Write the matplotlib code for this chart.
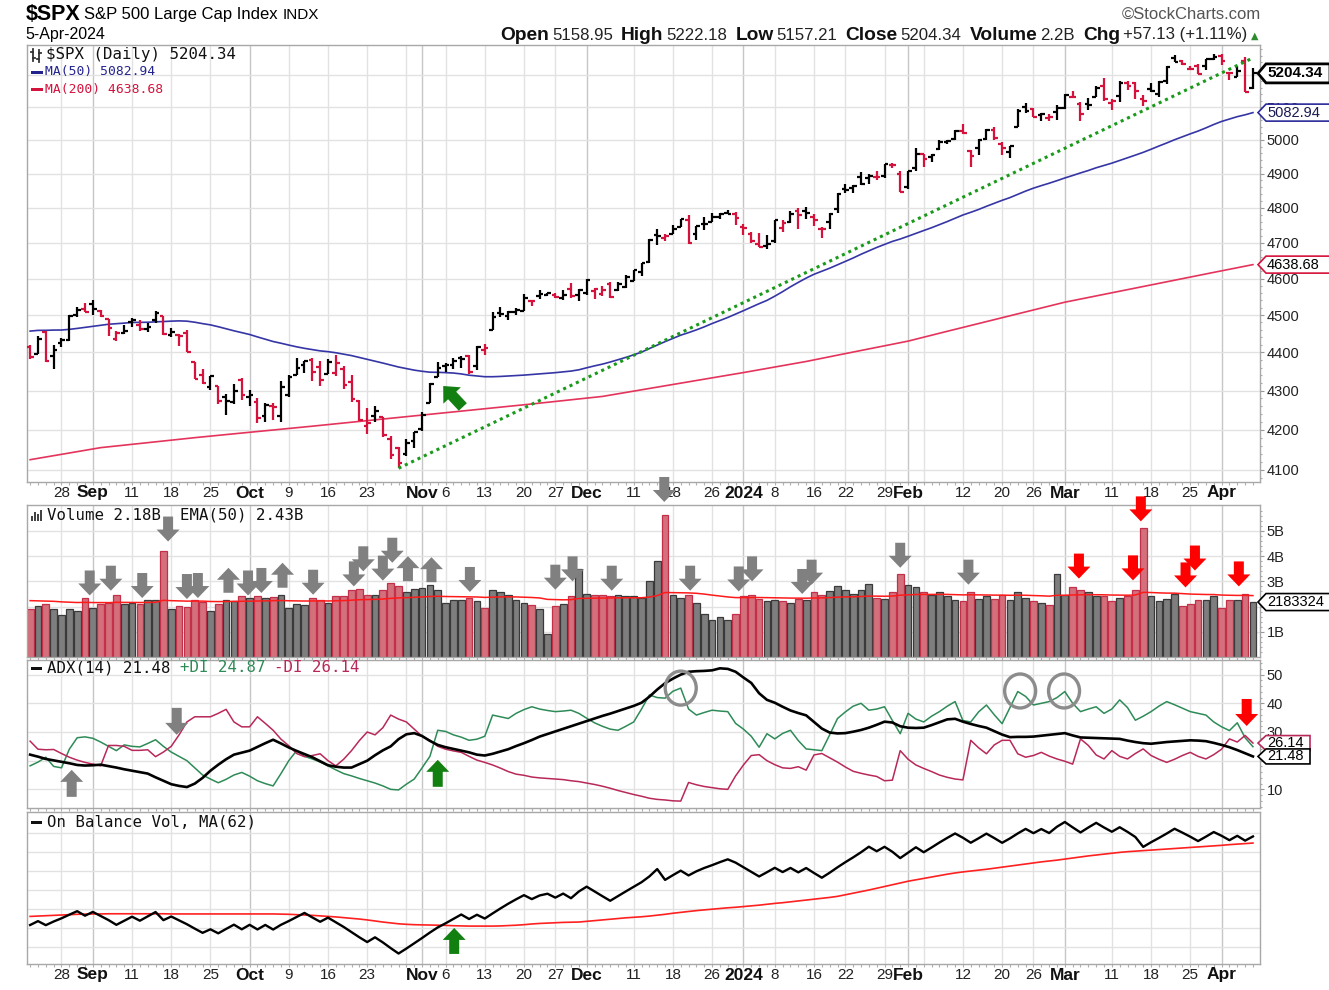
import numpy as np
import pandas as pd
import matplotlib
matplotlib.use("Agg")
import matplotlib.pyplot as plt
from matplotlib.patches import Polygon, Ellipse, Rectangle
from matplotlib.lines import Line2D
from matplotlib.transforms import IdentityTransform
from matplotlib.ticker import FixedLocator, NullFormatter
from matplotlib import font_manager

# ------------------------------------------------------------------ data
holidays = ['2023-09-04', '2023-11-23', '2023-12-25', '2024-01-01',
            '2024-01-15', '2024-02-19', '2024-03-29']
dates = pd.bdate_range('2023-08-22', '2024-04-05')
dates = dates[~dates.isin(pd.to_datetime(holidays))]

pre_closes = [4298.86, 4338.93, 4369.01, 4372.59, 4425.84, 4409.59, 4388.71, 4365.69, 4381.89, 4348.33,
              4328.82, 4378.41, 4376.86, 4396.44, 4450.38, 4455.59, 4446.82, 4411.59, 4398.95, 4409.53,
              4439.26, 4472.16, 4510.04, 4505.42, 4522.79, 4554.98, 4565.72, 4534.87, 4536.34, 4554.64,
              4567.46, 4566.75, 4537.41, 4582.23, 4588.96, 4576.73, 4513.39, 4501.89, 4478.03, 4518.44,
              4499.38, 4467.71, 4468.83, 4464.05, 4489.72, 4437.86, 4404.33, 4370.36, 4369.71, 4399.77]

opens = [4415.33, 4396.44, 4455.16, 4389.38, 4426.03, 4432.75, 4500.34, 4517.01, 4530.60, 4510.06,
         4490.35, 4434.55, 4451.30, 4480.98, 4473.27, 4462.65, 4487.78, 4497.98, 4445.41, 4445.41,
         4452.81, 4374.36, 4341.74, 4310.62, 4312.88, 4282.63, 4269.65, 4328.18, 4284.52, 4269.75,
         4233.83, 4259.31, 4234.79, 4289.02, 4339.75, 4366.59, 4380.94, 4360.49, 4342.37, 4345.23,
         4357.35, 4321.36, 4273.85, 4210.40, 4235.79, 4232.42, 4175.99, 4152.93, 4139.39, 4171.33,
         4201.27, 4268.26, 4334.23, 4364.27, 4366.21, 4384.37, 4391.41, 4364.15, 4406.66, 4458.97,
         4505.30, 4497.08, 4509.55, 4511.70, 4538.77, 4553.04, 4555.84, 4554.86, 4545.55, 4571.84,
         4554.87, 4559.43, 4564.37, 4557.25, 4586.23, 4568.84, 4576.20, 4593.39, 4618.30, 4646.20,
         4721.04, 4714.23, 4725.58, 4743.72, 4764.73, 4724.29, 4753.92, 4758.86, 4773.45, 4786.44,
         4782.88, 4745.20, 4725.07, 4697.42, 4690.57, 4703.70, 4741.93, 4759.94, 4792.13, 4791.18,
         4772.35, 4739.13, 4760.10, 4796.28, 4853.42, 4856.80, 4888.56, 4886.66, 4888.91, 4892.95,
         4925.89, 4899.19, 4861.11, 4916.06, 4957.19, 4950.16, 4973.05, 4995.16, 5004.17, 5026.83,
         4967.94, 4976.44, 5003.14, 5031.13, 4989.32, 4963.03, 5038.83, 5100.92, 5093.00, 5074.60,
         5067.20, 5085.36, 5098.51, 5130.99, 5110.52, 5108.03, 5132.38, 5164.46, 5111.96, 5134.30,
         5173.49, 5175.14, 5123.31, 5154.77, 5139.09, 5181.69, 5253.43, 5242.48, 5219.52, 5228.85,
         5226.31, 5248.03, 5257.97, 5204.29, 5194.37, 5244.05, 5158.95]

highs = [4418.59, 4443.18, 4458.30, 4418.46, 4439.56, 4500.14, 4521.65, 4532.26, 4541.25, 4514.29,
         4490.35, 4457.81, 4473.53, 4490.77, 4487.11, 4479.39, 4511.99, 4497.98, 4466.36, 4449.85,
         4461.03, 4375.70, 4357.40, 4338.51, 4313.01, 4292.07, 4317.27, 4333.15, 4300.58, 4281.15,
         4268.50, 4267.13, 4324.10, 4341.73, 4385.46, 4378.64, 4385.85, 4377.10, 4383.33, 4393.57,
         4364.20, 4339.54, 4276.56, 4255.84, 4259.38, 4232.42, 4183.60, 4156.70, 4177.47, 4195.55,
         4245.64, 4319.72, 4373.62, 4372.21, 4386.26, 4391.20, 4393.40, 4418.03, 4421.76, 4508.67,
         4521.17, 4511.99, 4520.12, 4557.11, 4542.14, 4568.43, 4560.31, 4560.52, 4568.14, 4587.64,
         4569.89, 4599.39, 4574.06, 4578.56, 4590.74, 4590.92, 4609.23, 4623.71, 4643.93, 4709.69,
         4738.57, 4725.53, 4749.52, 4768.69, 4778.01, 4748.71, 4772.94, 4784.72, 4785.39, 4793.30,
         4788.43, 4754.33, 4729.29, 4726.78, 4721.49, 4764.54, 4765.47, 4790.80, 4798.50, 4802.40,
         4782.34, 4744.23, 4785.79, 4842.07, 4868.41, 4866.48, 4903.68, 4898.15, 4906.69, 4929.31,
         4931.09, 4906.75, 4906.97, 4975.29, 4957.19, 4957.77, 4999.89, 5000.40, 5030.06, 5048.39,
         4969.34, 5002.52, 5032.72, 5038.70, 4993.71, 4983.21, 5094.39, 5111.06, 5097.66, 5080.69,
         5077.37, 5104.99, 5140.33, 5149.67, 5114.54, 5127.97, 5165.62, 5189.26, 5124.66, 5179.87,
         5179.14, 5176.85, 5136.86, 5175.60, 5180.31, 5226.19, 5261.10, 5246.09, 5229.09, 5235.16,
         5249.26, 5264.85, 5263.95, 5208.34, 5228.75, 5256.59, 5222.18]

lows = [4382.77, 4396.44, 4375.55, 4356.29, 4414.98, 4431.68, 4493.59, 4507.39, 4501.35, 4496.01,
        4442.38, 4430.46, 4448.38, 4467.89, 4456.83, 4453.52, 4478.69, 4447.21, 4442.11, 4416.61,
        4401.38, 4329.17, 4316.49, 4302.70, 4265.98, 4238.63, 4264.38, 4274.86, 4260.21, 4216.45,
        4220.48, 4225.91, 4219.55, 4283.79, 4339.64, 4345.34, 4325.43, 4311.97, 4342.37, 4337.54,
        4303.84, 4269.69, 4223.03, 4189.22, 4219.43, 4181.42, 4127.90, 4103.78, 4132.94, 4153.12,
        4197.74, 4268.26, 4334.23, 4347.53, 4355.41, 4359.76, 4343.94, 4353.34, 4393.82, 4458.97,
        4495.31, 4487.83, 4499.66, 4510.36, 4525.51, 4545.05, 4552.80, 4546.32, 4540.51, 4547.15,
        4537.24, 4554.71, 4544.48, 4551.68, 4546.50, 4565.22, 4574.06, 4593.39, 4608.09, 4643.23,
        4694.34, 4704.69, 4725.58, 4743.72, 4697.82, 4708.35, 4736.77, 4758.45, 4768.90, 4780.98,
        4751.99, 4722.67, 4699.71, 4687.53, 4682.11, 4699.82, 4730.35, 4756.20, 4739.58, 4768.98,
        4747.12, 4714.82, 4740.57, 4785.87, 4844.05, 4844.37, 4865.94, 4869.34, 4881.47, 4887.40,
        4916.27, 4845.15, 4853.52, 4907.99, 4918.09, 4934.88, 4969.05, 4987.09, 5000.34, 5016.83,
        4920.31, 4956.45, 4999.44, 4999.52, 4955.02, 4946.00, 5038.83, 5081.46, 5068.91, 5057.29,
        5058.35, 5061.89, 5094.16, 5127.18, 5056.82, 5092.22, 5131.59, 5117.50, 5091.14, 5114.48,
        5151.88, 5123.30, 5104.35, 5145.47, 5131.59, 5171.55, 5240.66, 5229.87, 5216.09, 5203.42,
        5213.92, 5245.82, 5229.20, 5184.05, 5194.37, 5146.06, 5157.21]

closes = [4387.55, 4436.01, 4376.31, 4405.71, 4433.31, 4497.63, 4514.87, 4507.66, 4515.77, 4496.83,
          4465.48, 4451.14, 4457.49, 4487.46, 4461.90, 4467.44, 4505.10, 4450.32, 4453.53, 4443.95,
          4402.20, 4330.00, 4320.06, 4337.44, 4273.53, 4274.51, 4299.70, 4288.05, 4288.39, 4229.45,
          4263.75, 4258.19, 4308.50, 4335.66, 4358.24, 4376.95, 4349.61, 4327.78, 4373.63, 4373.20,
          4314.60, 4278.00, 4224.16, 4217.04, 4247.68, 4186.77, 4137.23, 4117.37, 4166.82, 4193.80,
          4237.86, 4317.78, 4358.34, 4365.98, 4378.38, 4382.78, 4347.35, 4415.24, 4411.55, 4495.70,
          4502.88, 4508.24, 4514.02, 4547.38, 4538.19, 4556.62, 4559.34, 4550.43, 4554.89, 4550.58,
          4567.80, 4594.63, 4569.78, 4567.18, 4549.34, 4585.59, 4604.37, 4622.44, 4643.70, 4707.09,
          4719.55, 4719.19, 4740.56, 4768.37, 4698.35, 4746.75, 4754.63, 4774.75, 4781.58, 4783.35,
          4769.83, 4742.83, 4704.81, 4688.68, 4697.24, 4763.54, 4756.50, 4783.45, 4780.24, 4783.83,
          4765.98, 4739.21, 4780.94, 4839.81, 4850.43, 4864.60, 4868.55, 4894.16, 4890.97, 4927.93,
          4924.97, 4845.65, 4906.19, 4958.61, 4942.81, 4954.23, 4995.06, 4997.91, 5026.61, 5021.84,
          4953.17, 5000.62, 5029.73, 5005.57, 4975.51, 4981.80, 5087.03, 5088.80, 5069.53, 5078.18,
          5069.76, 5096.27, 5137.08, 5130.95, 5078.65, 5104.76, 5157.36, 5123.69, 5117.94, 5175.27,
          5165.31, 5150.48, 5117.09, 5149.42, 5178.51, 5224.62, 5241.53, 5234.18, 5218.19, 5203.58,
          5248.49, 5254.35, 5243.77, 5205.81, 5211.49, 5147.21, 5204.34]

ma200 = [4125.0, 4128.3, 4131.7, 4135.0, 4138.3, 4141.7, 4145.0, 4148.3, 4151.7, 4155.0,
         4157.1, 4159.2, 4161.2, 4163.3, 4165.4, 4167.5, 4169.6, 4171.7, 4173.8, 4175.8, 4177.9, 4180.0, 4182.0,
         4183.9, 4185.8, 4187.8, 4189.7, 4191.6, 4193.5, 4195.4, 4197.3, 4199.2, 4201.2, 4203.1, 4205.0,
         4207.0, 4209.0, 4211.0, 4213.0, 4215.0, 4217.0, 4219.0, 4221.0, 4223.0, 4225.0, 4227.0, 4229.0, 4231.0,
         4233.0, 4235.0, 4237.0, 4239.0, 4241.0, 4243.0, 4245.0, 4247.0, 4249.0, 4251.0, 4253.0, 4255.0, 4257.0,
         4259.2, 4261.3, 4263.5, 4265.6, 4267.8, 4269.9, 4272.1, 4274.2, 4276.4, 4278.5, 4280.7, 4282.8, 4285.0,
         4288.4, 4291.9, 4295.3, 4298.8, 4302.2, 4305.6, 4309.1, 4312.5, 4316.0, 4319.4, 4322.8, 4326.3, 4329.7,
         4333.2, 4336.6, 4340.0, 4343.5, 4347.0,
         4350.6, 4354.1, 4357.7, 4361.3, 4364.9, 4368.4, 4372.0,
         4376.1, 4380.3, 4384.4, 4388.6, 4392.7, 4396.9, 4401.0, 4405.1, 4409.3, 4413.4, 4417.6, 4421.7, 4425.9, 4430.0,
         4435.3, 4440.5, 4445.8, 4451.0, 4456.3, 4461.5, 4466.8, 4472.0, 4477.3, 4482.5, 4487.8, 4493.0, 4498.3,
         4503.5, 4508.8, 4514.0, 4519.3, 4524.5, 4529.8, 4535.0,
         4539.3, 4543.6, 4548.0, 4552.3, 4556.6, 4560.9, 4565.2, 4569.6, 4573.9, 4578.2, 4582.5, 4586.8, 4591.2,
         4595.5, 4599.8, 4604.1, 4608.4, 4612.8, 4617.1, 4621.4, 4625.7, 4630.0, 4634.4, 4638.68]

volume_b = [1.89, 2.02, 2.09, 1.89, 1.65, 1.89, 1.81, 2.34, 1.96, 2.09,
            2.14, 2.47, 2.09, 2.14, 2.09, 2.25, 2.25, 4.21, 1.89, 2.02,
            1.98, 2.28, 2.18, 1.83, 2.09, 2.28, 2.21, 2.41, 2.34, 2.41,
            2.34, 2.38, 2.45, 1.96, 2.12, 2.08, 2.34, 2.25, 2.14, 2.41,
            2.41, 2.65, 2.71, 2.47, 2.45, 2.65, 2.95, 2.80, 2.58, 2.71,
            2.75, 2.84, 2.65, 2.14, 2.28, 2.28, 2.34, 2.21, 1.96, 2.65,
            2.58, 2.47, 2.28, 2.14, 2.05, 1.89, 0.90, 2.02, 2.09, 2.41,
            3.50, 2.51, 2.47, 2.45, 2.41, 2.47, 2.41, 2.41, 2.35, 3.00,
            3.81, 5.62, 2.45, 2.34, 2.47, 2.14, 1.72, 1.46, 1.57, 1.46,
            1.72, 2.41, 2.47, 2.29, 2.21, 2.28, 2.21, 2.14, 2.29, 2.25,
            2.58, 2.45, 2.60, 2.80, 2.65, 2.50, 2.65, 2.88, 2.35, 2.30,
            2.58, 3.28, 2.84, 2.78, 2.58, 2.45, 2.58, 2.41, 2.28, 2.21,
            2.58, 2.31, 2.41, 2.31, 2.45, 2.28, 2.58, 2.35, 2.21, 2.14,
            2.08, 3.28, 2.45, 2.78, 2.65, 2.58, 2.41, 2.41, 2.21, 2.34,
            2.41, 2.65, 5.13, 2.41, 2.21, 2.31, 2.48, 2.02, 2.09, 2.28,
            2.28, 2.41, 1.96, 2.28, 2.28, 2.51, 2.18]
vol_ema_seed = 2.25

adx = [22.1, 21.4, 20.6, 20.1, 19.6, 19.1, 18.5, 18.3, 18.4, 18.6,
       18.1, 17.6, 17.0, 16.5, 16.0, 15.5, 14.2, 13.0, 11.8, 11.2,
       10.8, 12.0, 14.0, 16.5, 18.6, 20.5, 22.1, 22.8, 23.5, 24.8,
       26.1, 27.3, 26.0, 24.6, 23.4, 22.3, 21.2, 19.8, 18.4, 17.9,
       17.6, 17.6, 18.8, 20.0, 21.9, 23.6, 25.0, 27.5, 29.2, 29.6,
       28.6, 26.9, 25.5, 24.7, 24.1, 23.5, 22.9, 22.1, 21.8, 22.4,
       23.2, 24.0, 25.1, 26.1, 27.2, 28.4, 29.3, 30.2, 31.1, 32.0,
       32.9, 33.8, 34.7, 35.6, 36.4, 37.3, 38.2, 39.1, 40.2, 42.3,
       44.8, 47.0, 48.6, 50.0, 51.0, 51.2, 51.3, 51.5, 52.2, 52.0,
       51.0, 49.0, 47.1, 43.5, 41.2, 40.2, 38.8, 37.5, 36.6, 35.8,
       33.5, 31.2, 29.8, 29.5, 29.6, 30.1, 30.7, 31.5, 32.5, 33.6,
       33.3, 32.0, 31.5, 31.4, 31.5, 32.4, 33.4, 34.4, 34.6, 33.6,
       32.8, 32.1, 31.5, 30.3, 29.1, 28.2, 28.3, 28.3, 28.4, 28.7,
       29.0, 29.3, 29.6, 28.8, 28.1, 28.0, 27.9, 27.8, 27.7, 27.6,
       27.0, 26.5, 26.1, 25.9, 26.2, 26.5, 26.7, 26.9, 27.1, 27.0,
       26.8, 26.2, 25.5, 24.7, 23.7, 22.6, 21.48]

plus_di = [18.2, 19.5, 21.2, 18.0, 17.5, 24.0, 28.0, 28.3, 27.8, 26.5,
           25.0, 23.5, 25.5, 25.0, 24.8, 26.0, 27.3, 25.0, 23.0, 21.5,
           20.0, 17.5, 15.0, 13.6, 12.3, 13.5, 15.0, 15.9, 14.6, 13.0,
           12.0, 11.2, 15.5, 20.0, 23.5, 21.5, 20.6, 19.5, 18.2, 16.8,
           15.5, 14.7, 13.8, 13.0, 12.2, 11.2, 10.0, 9.8, 11.8, 13.6,
           17.5, 21.5, 30.6, 30.2, 29.0, 28.2, 27.1, 27.5, 28.5, 35.9,
           35.3, 34.7, 36.5, 37.8, 38.8, 38.0, 37.5, 37.1, 37.3, 37.6,
           36.5, 34.8, 33.2, 32.0, 31.0, 30.6, 32.0, 33.5, 38.0, 42.9,
           42.0, 41.8, 44.2, 45.3, 38.0, 35.9, 36.8, 37.6, 37.3, 37.1,
           33.0, 31.0, 28.5, 24.7, 29.4, 27.6, 29.5, 30.6, 27.0, 24.1,
           23.8, 23.5, 29.0, 34.7, 37.0, 39.0, 40.0, 37.6, 38.0, 38.8,
           34.0, 29.4, 36.5, 34.5, 33.5, 35.5, 37.1, 39.0, 40.6, 34.0,
           33.5, 37.0, 39.4, 36.0, 32.9, 38.5, 44.1, 42.4, 39.4, 40.0,
           40.6, 42.0, 44.1, 40.0, 37.1, 38.0, 38.8, 36.5, 38.0, 41.2,
           38.5, 34.1, 35.5, 37.1, 39.0, 40.6, 39.5, 38.3, 37.1, 36.5,
           35.9, 33.5, 31.8, 30.5, 33.2, 28.0, 24.87]

minus_di = [26.8, 24.0, 23.8, 23.9, 22.5, 21.2, 20.2, 19.4, 18.8, 18.2,
            25.3, 25.3, 25.0, 23.6, 23.6, 23.8, 21.4, 23.0, 25.0, 29.0,
            33.5, 35.3, 35.3, 35.3, 36.5, 37.9, 33.5, 31.8, 31.8, 35.3,
            33.0, 30.6, 27.5, 25.2, 22.5, 21.4, 21.8, 22.4, 20.0, 18.2,
            20.5, 23.5, 27.0, 30.0, 29.0, 31.5, 35.9, 34.5, 33.5, 31.0,
            28.5, 27.1, 25.0, 24.0, 23.4, 22.9, 21.5, 20.2, 19.4, 18.5,
            17.4, 16.2, 15.3, 14.9, 14.3, 14.0, 13.8, 13.6, 13.4, 13.0,
            12.7, 12.2, 11.7, 11.1, 10.4, 9.6, 8.9, 8.2, 7.6, 6.9,
            6.5, 6.3, 6.0, 5.9, 12.4, 11.6, 11.0, 10.6, 10.2, 10.0,
            14.7, 18.5, 21.8, 22.1, 20.0, 18.6, 17.5, 17.3, 17.9, 16.7,
            22.0, 22.5, 21.0, 19.5, 17.8, 16.3, 15.6, 15.0, 14.5, 13.0,
            13.2, 23.5, 20.5, 18.5, 17.3, 16.2, 15.0, 14.2, 13.6, 13.3,
            27.1, 24.5, 22.4, 25.5, 27.1, 27.1, 22.4, 21.2, 21.8, 22.9,
            21.6, 20.6, 19.8, 18.8, 27.6, 25.3, 22.0, 20.6, 23.5, 21.5,
            20.6, 22.5, 24.1, 21.8, 20.5, 19.4, 20.5, 21.8, 22.9, 21.5,
            20.6, 22.1, 24.0, 27.6, 26.5, 28.8, 26.14]

obv_ma62 = [2.57, 2.75, 2.93, 3.12, 3.30, 3.48, 3.66, 3.76,
            3.85, 3.85, 3.94, 3.94, 3.94, 3.94, 3.94, 3.94, 3.94, 3.94, 3.85, 3.85,
            3.85, 3.85, 3.85, 3.85, 3.85, 3.85, 3.85, 3.85, 3.85, 3.85, 3.85, 3.85,
            3.76, 3.66, 3.48, 3.30, 3.12, 2.84, 2.57, 2.30, 1.93,
            1.57, 1.20, 0.75, 0.20, -0.35, -0.80, -1.26,
            -1.53, -1.72, -1.81, -1.90, -1.99, -2.08,
            -2.26, -2.36, -2.45, -2.45, -2.45, -2.45, -2.36,
            -2.17, -1.99, -1.72, -1.35, -1.08, -0.90, -0.71, -0.53, -0.44, -0.35,
            0.02, 0.38, 0.75, 1.11, 1.48, 1.84, 2.11, 2.39, 2.75,
            3.21, 3.66, 4.21, 4.67, 5.12, 5.58, 5.94, 6.31, 6.67, 7.04, 7.31, 7.68,
            8.04, 8.41, 8.86, 9.32, 9.68, 10.14, 10.60, 11.05, 11.51, 11.96, 12.42, 12.97,
            13.79, 14.61, 15.43, 16.25, 17.16, 18.07, 18.99, 19.90, 20.81, 21.54, 22.27,
            23.00, 23.73, 24.46, 25.10, 25.64, 26.10, 26.56, 27.01, 27.56, 28.11, 28.65,
            29.20, 29.75, 30.29, 30.84, 31.30, 31.75, 32.30, 32.85, 33.40, 33.94, 34.40,
            34.86, 35.31, 35.77, 36.13, 36.41, 36.68, 36.95, 37.23, 37.50, 37.77, 38.05,
            38.32, 38.59, 38.87, 39.14, 39.42, 39.78, 40.05, 40.33, 40.60]

price_ticks = [4100, 4200, 4300, 4400, 4500, 4600, 4700, 4800, 4900, 5000, 5100, 5200]
price_tick_labels = ['4100', '4200', '4300', '4400', '4500', '4600', '4700', '4800', '4900', '5000', '5100', '']
vol_ticks = [1, 2, 3, 4, 5]
vol_tick_labels = ['1B', '', '3B', '4B', '5B']
adx_ticks = [10, 20, 30, 40, 50]
adx_tick_labels = ['10', '', '30', '40', '50']

xtick_dates = ['2023-08-28', '2023-09-01', '2023-09-11', '2023-09-18', '2023-09-25', '2023-10-02',
               '2023-10-09', '2023-10-16', '2023-10-23', '2023-11-01', '2023-11-06', '2023-11-13',
               '2023-11-20', '2023-11-27', '2023-12-01', '2023-12-11', '2023-12-18', '2023-12-26',
               '2024-01-02', '2024-01-08', '2024-01-16', '2024-01-22', '2024-01-29', '2024-02-01',
               '2024-02-12', '2024-02-20', '2024-02-26', '2024-03-01', '2024-03-11', '2024-03-18',
               '2024-03-25', '2024-04-01']
xtick_labels = ['28', 'Sep', '11', '18', '25', 'Oct', '9', '16', '23', 'Nov', '6', '13', '20', '27',
                'Dec', '11', '18', '26', '2024', '8', '16', '22', '29', 'Feb', '12', '20', '26', 'Mar',
                '11', '18', '25', 'Apr']
month_labels = {'Sep', 'Oct', 'Nov', 'Dec', '2024', 'Feb', 'Mar', 'Apr'}

# user-drawn trendline (Oct 27 low to Apr 4 high)
trend_idx = [47, 156]
trend_val = [4103.78, 5253.0]

# annotations: (bar index, tip value, direction, colour)
GRAY_A, RED_A, GREEN_A = '#808080', '#FF0000', '#118011'
vol_arrows = [(7.6, 2.44, 'down', GRAY_A), (10.3, 2.63, 'down', GRAY_A), (14.3, 2.34, 'down', GRAY_A),
              (17.6, 4.58, 'down', GRAY_A), (20.0, 2.30, 'down', GRAY_A), (21.4, 2.34, 'down', GRAY_A),
              (25.3, 3.54, 'up', GRAY_A), (27.8, 2.44, 'down', GRAY_A), (29.5, 2.54, 'down', GRAY_A),
              (32.2, 3.74, 'up', GRAY_A), (36.1, 2.47, 'down', GRAY_A), (41.3, 2.80, 'down', GRAY_A),
              (42.5, 3.40, 'down', GRAY_A), (45.0, 3.03, 'down', GRAY_A), (46.2, 3.74, 'down', GRAY_A),
              (48.2, 4.00, 'up', GRAY_A), (51.2, 3.96, 'up', GRAY_A), (56.1, 2.58, 'down', GRAY_A),
              (67.0, 2.67, 'down', GRAY_A), (69.2, 3.00, 'down', GRAY_A), (74.2, 2.63, 'down', GRAY_A),
              (80.9, 6.15, 'down', GRAY_A), (84.2, 2.63, 'down', GRAY_A), (90.4, 2.60, 'down', GRAY_A),
              (92.1, 3.00, 'down', GRAY_A), (98.5, 2.50, 'down', GRAY_A), (99.7, 2.87, 'down', GRAY_A),
              (111.0, 3.54, 'down', GRAY_A), (119.7, 2.87, 'down', GRAY_A),
              (133.8, 3.11, 'down', RED_A), (140.7, 3.04, 'down', RED_A), (141.7, 5.38, 'down', RED_A),
              (147.4, 2.76, 'down', RED_A), (148.6, 3.43, 'down', RED_A), (154.2, 2.80, 'down', RED_A)]
adx_arrows = [(5.3, 16.8, 'up', GRAY_A), (18.7, 29.0, 'down', GRAY_A),
              (52.0, 20.3, 'up', GREEN_A), (155.2, 32.1, 'down', RED_A)]
adx_circles = [(83.0, 45.3), (126.3, 44.3), (131.9, 44.3)]
obv_arrows = [(54.1, -3.4, 'up', GREEN_A)]
price_arrow = ((52.7, 4312.0), (55.2, 4258.0))   # tip, tail

# ------------------------------------------------------------------ derived
n = len(dates)
x = np.arange(n)
prev_close = np.array([pre_closes[-1]] + closes[:-1])
up = np.array(closes) >= prev_close
ma50 = pd.Series(pre_closes + closes).rolling(50).mean().to_numpy()[-n:]
vol = np.array(volume_b)
vol_ema = pd.Series([vol_ema_seed] + volume_b).ewm(span=50, adjust=False).mean().to_numpy()[1:]
obv = np.cumsum(np.where(up, vol, -vol))

wk = dates.isocalendar().week.to_numpy()
week_start = [i for i in range(1, n) if wk[i] != wk[i - 1]]
month_start = [i for i in range(1, n) if dates[i].month != dates[i - 1].month]
week_lines = [i for i in week_start if i not in month_start and
              not any(0 < i - m <= 1 for m in month_start)]
tick_pos = [int(np.where(dates == pd.Timestamp(d))[0][0]) for d in xtick_dates]

# ------------------------------------------------------------------ figure
W, H = 1329, 990
fig = plt.figure(figsize=(W / 100, H / 100), dpi=100)
fig.patch.set_facecolor('white')
names = {f.name for f in font_manager.fontManager.ttflist}
NARROW = 'Liberation Sans Narrow' if 'Liberation Sans Narrow' in names else 'Liberation Sans'
ARIAL = 'Liberation Sans'
VERD = 'DejaVu Sans'
MONO = 'DejaVu Sans Mono'


def rect(top, bottom):
    return [27 / W, 1 - bottom / H, (1260 - 27) / W, (bottom - top) / H]


ax_p = fig.add_axes(rect(45, 482))
ax_v = fig.add_axes(rect(505, 657))
ax_a = fig.add_axes(rect(660, 808))
ax_o = fig.add_axes(rect(812, 964))
all_axes = [ax_p, ax_v, ax_a, ax_o]

for ax in all_axes:
    ax.set_xlim(-0.4, 156.9)
    for s in ax.spines.values():
        s.set_color('#A8A8A8')
        s.set_linewidth(1.0)
    for i in week_lines:
        ax.axvline(i, color='#E2E2E2', lw=1.0, zorder=0)
    for i in month_start:
        ax.axvline(i, color='#C6C6C6', lw=1.0, zorder=0)
    ax.set_xticks([])
    ax.set_xticks(x, minor=True)
    ax.tick_params(axis='x', which='minor', length=2, color='#B0B0B0', width=0.8)
    ax.yaxis.tick_right()
    ax.tick_params(axis='y', which='major', length=3, color='#999999', width=0.8,
                   labelsize=10.5, pad=2, labelcolor='#222222')
    ax.tick_params(axis='y', which='minor', length=1.5, color='#AAAAAA', width=0.8)

# ---- price panel
ax_p.set_yscale('log')
ax_p.set_ylim(4070, 5294)
for v in price_ticks:
    ax_p.axhline(v, color='#E2E2E2', lw=1.0, zorder=0)
ax_p.set_yticks(price_ticks, price_tick_labels)
ax_p.yaxis.set_minor_locator(FixedLocator(np.arange(4080, 5300, 20)))
ax_p.yaxis.set_minor_formatter(NullFormatter())
bar_col = np.where(up, '#000000', '#D5123C')
ax_p.plot(x, ma200, color='#E4345C', lw=1.2, zorder=2)
ax_p.plot(x, ma50, color='#3535A5', lw=1.2, zorder=2)
ax_p.vlines(x, lows, highs, colors=bar_col, lw=1.6, zorder=3)
ax_p.hlines(opens, x - 0.47, x, colors=bar_col, lw=1.6, zorder=3)
ax_p.hlines(closes, x, x + 0.47, colors=bar_col, lw=1.6, zorder=3)
ax_p.plot(trend_idx, trend_val, color='#1A9A1A', lw=2.2, ls=(0, (1, 1.3)), zorder=4)

# ---- volume panel
ax_v.set_ylim(0, 6.03)
for v in vol_ticks:
    ax_v.axhline(v, color='#E2E2E2', lw=1.0, zorder=0)
ax_v.set_yticks(vol_ticks, vol_tick_labels)
ax_v.yaxis.set_minor_locator(FixedLocator(np.arange(0.2, 6.0, 0.2)))
ax_v.yaxis.set_minor_formatter(NullFormatter())
ax_v.bar(x, vol, width=0.86, color=np.where(up, '#7E7E7E', '#D4707C'),
         edgecolor=np.where(up, '#3A3A3A', '#C2304A'), lw=0.9, zorder=2)
ax_v.plot(x, vol_ema, color='#FF1A1A', lw=1.1, zorder=3)

# ---- ADX panel
ax_a.set_ylim(3.5, 55.1)
for v in adx_ticks:
    ax_a.axhline(v, color='#E2E2E2', lw=1.0, zorder=0)
ax_a.set_yticks(adx_ticks, adx_tick_labels)
ax_a.yaxis.set_minor_locator(FixedLocator(np.arange(4, 55, 2)))
ax_a.yaxis.set_minor_formatter(NullFormatter())
ax_a.plot(x, plus_di, color='#2E8B57', lw=1.1, zorder=2)
ax_a.plot(x, minus_di, color='#B8285A', lw=1.1, zorder=2)
ax_a.plot(x, adx, color='#000000', lw=1.9, zorder=3)

# ---- OBV panel
ax_o.set_ylim(-22.1, 56.7)
ax_o.set_yticks([])
for f in [0.112, 0.237, 0.362, 0.487, 0.612, 0.737, 0.862]:
    ax_o.plot([0, 1], [f, f], transform=ax_o.transAxes, color='#E2E2E2', lw=1.0, zorder=0)
ax_o.plot(x, obv_ma62, color='#FF2020', lw=1.2, zorder=2)
ax_o.plot(x, obv, color='#000000', lw=1.7, zorder=3)

for ax in all_axes:
    for lab in ax.get_yticklabels():
        lab.set_fontfamily(ARIAL)

# ------------------------------------------------------------------ pixel helpers
renderer = fig.canvas.get_renderer()
IDT = IdentityTransform()


def P(ax, xi, yv):
    return ax.transData.transform((xi, yv))


def ftext(xp, yp, s, **kw):
    # xp, yp in image pixel coords (y from top)
    return fig.text(xp, H - yp, s, transform=IDT, **kw)


def chain(items, x0, yp, anchor='left'):
    objs, widths = [], []
    for s, kw, gap in items:
        t = fig.text(0, 0, s, transform=IDT, va='center', ha='left', **kw)
        objs.append(t)
        widths.append(t.get_window_extent(renderer).width + gap)
    xs = x0 if anchor == 'left' else x0 - sum(widths)
    for t, w in zip(objs, widths):
        t.set_position((xs, H - yp))
        xs += w
    return xs


def dash(xp, yp, color, w=12):
    fig.add_artist(Rectangle((xp, H - yp - 1.5), w, 3, transform=IDT, fc=color, ec='none', zorder=25))


def pline(xs, ys, color='#333333', lw=1.3):
    fig.add_artist(Line2D(xs, [H - v for v in ys], transform=IDT, color=color, lw=lw, zorder=25))


def block_arrow(tip, tail, color, shaft=10, head=23, headlen=12):
    tip = np.asarray(tip, float)
    tail = np.asarray(tail, float)
    d = tip - tail
    u = d / np.hypot(*d)
    nr = np.array([-u[1], u[0]])
    hb = tip - u * headlen
    pts = [tip, hb + nr * head / 2, hb + nr * shaft / 2, tail + nr * shaft / 2,
           tail - nr * shaft / 2, hb - nr * shaft / 2, hb - nr * head / 2]
    fig.add_artist(Polygon(pts, closed=True, transform=IDT, fc=color, ec='none', zorder=20))


def vert_arrow(ax, xi, tipv, direction, color, length=25):
    tp = P(ax, xi, tipv)
    tail = tp + np.array([0, length if direction == 'down' else -length])
    block_arrow(tp, tail, color)


def tag(ax, val, text, ec, tc='#000000', w=70, h=17, lw=1.2, bold=False, fs=10.5):
    xr = ax.transAxes.transform((1, 0))[0]
    yc = P(ax, 0, val)[1]
    pts = [(xr - 2, yc), (xr + 6, yc + h / 2), (xr + w, yc + h / 2), (xr + w, yc - h / 2), (xr + 6, yc - h / 2)]
    fig.add_artist(Polygon(pts, closed=True, transform=IDT, fc='white', ec=ec, lw=lw, zorder=30))
    fig.text(xr + 7, yc, text, transform=IDT, va='center', ha='left', fontsize=fs, color=tc,
             fontfamily=ARIAL, fontweight='bold' if bold else 'normal', zorder=31)


# ---- x date labels
for ax, ypix in [(ax_p, 493), (ax_o, 975)]:
    for pos, lab in zip(tick_pos, xtick_labels):
        xp = P(ax, pos, ax.get_ylim()[0])[0]
        if lab in month_labels:
            ftext(xp, ypix, lab, ha='center', va='center', fontsize=12.5, fontweight='bold',
                  fontfamily=NARROW, color='#111111')
        else:
            ftext(xp, ypix, lab, ha='center', va='center', fontsize=11, fontfamily=NARROW,
                  color='#222222')

# ---- header
ftext(26, 14, '$SPX', fontsize=15.5, fontweight='bold', fontfamily=ARIAL, va='center', ha='left')
ftext(84, 15, 'S&P 500 Large Cap Index', fontsize=12, fontfamily=ARIAL, va='center', ha='left')
ftext(283, 15, 'INDX', fontsize=11, fontfamily=ARIAL, va='center', ha='left')
ftext(25, 35, '5-Apr-2024', fontsize=11.5, fontfamily=ARIAL, va='center', ha='left')
ftext(1261, 14, '\u00a9StockCharts.com', fontsize=12, fontfamily=NARROW, color='#555555',
      va='center', ha='right')
B = dict(fontsize=13.8, fontweight='bold', fontfamily=NARROW, color='#111111')
R = dict(fontsize=12.1, fontfamily=NARROW, color='#222222')
chain([('Open', B, 3), ('5158.95', R, 8), ('High', B, 3), ('5222.18', R, 8),
       ('Low', B, 3), ('5157.21', R, 8), ('Close', B, 3), ('5204.34', R, 8),
       ('Volume', B, 3), ('2.2B', R, 8), ('Chg', B, 3), ('+57.13 (+1.11%)', R, 2)],
      1249, 35, anchor='right')
ftext(1251, 36, '\u25b2', fontsize=7, color='#2E8B2E', va='center', ha='left', fontfamily=VERD)

# ---- panel legends
BIG = dict(fontsize=11.3, fontfamily=MONO)
SMALL = dict(fontsize=9.4, fontfamily=MONO)
# small OHLC-bar icon
pline([33, 33], [49, 61]); pline([31, 33], [52, 52]); pline([33, 35], [58, 58])
pline([39, 39], [50, 62]); pline([37, 39], [59, 59]); pline([39, 41], [53, 53])
ftext(46, 55, '$SPX (Daily) 5204.34', va='center', ha='left', color='#111111', **BIG)
dash(31, 72, '#23238F')
ftext(45, 72, 'MA(50) 5082.94', va='center', ha='left', color='#23238F', **SMALL)
dash(31, 89, '#D5123C')
ftext(45, 89, 'MA(200) 4638.68', va='center', ha='left', color='#D5123C', **SMALL)
for k, hh in enumerate([5, 9, 7, 11]):
    fig.add_artist(Rectangle((31 + k * 3, H - 521), 2, hh, transform=IDT, fc='#444444', ec='none', zorder=25))
ftext(47, 515, 'Volume 2.18B, EMA(50) 2.43B', va='center', ha='left', color='#111111', **BIG)
dash(31, 668, '#111111', w=11)
chain([('ADX(14) 21.48', dict(color='#111111', **BIG), 9),
       ('+DI 24.87', dict(color='#2E8B57', **BIG), 9),
       ('-DI 26.14', dict(color='#B8285A', **BIG), 0)], 47, 668)
dash(31, 822, '#111111', w=11)
ftext(47, 822, 'On Balance Vol, MA(62)', va='center', ha='left', color='#111111', **BIG)

# ---- annotations
for xi, tv, dr, col in vol_arrows:
    vert_arrow(ax_v, xi, tv, dr, col)
for xi, tv, dr, col in adx_arrows:
    vert_arrow(ax_a, xi, tv, dr, col, length=27)
for xi, tv, dr, col in obv_arrows:
    vert_arrow(ax_o, xi, tv, dr, col, length=26)
block_arrow(P(ax_p, *price_arrow[0]), P(ax_p, *price_arrow[1]), GREEN_A, shaft=11, head=24, headlen=13)
for xi, yv in adx_circles:
    c = P(ax_a, xi, yv)
    fig.add_artist(Ellipse(c, 31, 34, transform=IDT, fill=False, ec='#8C8C8C', lw=2.4, zorder=21))

# ---- right-edge value tags
tag(ax_p, 5204.34, '5204.34', '#000000', w=70, h=19, lw=2.0, bold=True, fs=11)
tag(ax_p, 5082.94, '5082.94', '#2A2A9A', tc='#1A1A50', w=70, h=17)
tag(ax_p, 4638.68, '4638.68', '#D5123C', w=70, h=17)
tag(ax_v, 2.18, '2183324', '#000000', w=75, h=17)
tag(ax_a, 26.14, '26.14', '#B8285A', w=50, h=15)
tag(ax_a, 21.48, '21.48', '#000000', w=50, h=15)

fig.savefig('out.png', dpi=100, facecolor='white')
